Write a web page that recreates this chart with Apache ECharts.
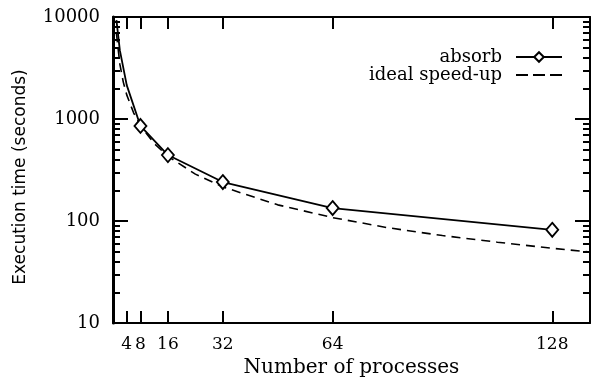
<!DOCTYPE html>
<html><head><meta charset="utf-8">
<script src="https://cdn.jsdelivr.net/npm/echarts@6/dist/echarts.min.js"></script>
<style>html,body{margin:0;padding:0;background:#fff}#c{width:594px;height:382px}</style>
</head><body><div id="c"></div>
<script>
const xTicks = [4, 8, 16, 32, 64, 128];
const yMajor = [10, 100, 1000, 10000];
const yMinor = [20, 30, 40, 50, 60, 70, 80, 90, 200, 300, 400, 500, 600, 700, 800, 900, 2000, 3000, 4000, 5000, 6000, 7000, 8000, 9000];
const absorbP = [1, 2, 4, 8, 16, 32, 64, 128];
const absorbT = [9300, 4700, 2150, 854, 443, 241, 134, 82];
const markedFrom = 8;
const idealP = [1, 2, 3, 4, 6, 8, 12, 16, 24, 32, 48, 64, 80, 96, 112, 128, 139];
const idealT = [6900, 3450, 2300, 1725, 1150, 862, 575, 431, 288, 216, 144, 108, 86, 72, 62, 54, 49.6];

const serif = 'DejaVu Serif';
const chart = echarts.init(document.getElementById('c'), null, {renderer: 'canvas'});

function xAxisDef(pos, showLabel) {
  return {
    type: 'value', position: pos, min: 0, max: 139,
    axisLine: {show: true, onZero: false, lineStyle: {color: '#000', width: 2}},
    axisTick: {show: true, inside: true, length: 12, customValues: xTicks, lineStyle: {color: '#000', width: 2}},
    axisLabel: {show: showLabel, customValues: xTicks, color: '#000', fontFamily: serif, fontSize: 17, margin: 13},
    splitLine: {show: false},
    name: showLabel ? 'Number of processes' : '',
    nameLocation: 'middle', nameGap: 34,
    nameTextStyle: {color: '#000', fontFamily: serif, fontSize: 20}
  };
}
function yAxisDef(pos, vals, len, showLabel, showLine, name) {
  return {
    type: 'log', logBase: 10, position: pos, min: 10, max: 10000,
    axisLine: {show: showLine, onZero: false, lineStyle: {color: '#000', width: pos === 'left' ? 3 : 2}},
    axisTick: {show: true, inside: true, length: len, customValues: vals, lineStyle: {color: '#000', width: 2}},
    axisLabel: {show: showLabel, customValues: vals, color: '#000', fontFamily: serif, fontSize: 18, margin: 13,
      formatter: v => String(Math.round(v))},
    splitLine: {show: false},
    name: name || '', nameLocation: 'middle', nameGap: 84,
    nameTextStyle: {color: '#000', fontFamily: 'DejaVu Sans', fontSize: 17, padding: [0, 14, 0, 0]}
  };
}

const dashIcon = 'path://M0,0h0.01v0.01h-0.01Z M0,5h12v2h-12Z M17,5h12v2h-12Z M34,5h12v2h-12Z M45.99,11.99h0.01v0.01h-0.01Z';

chart.setOption({
  animation: false,
  backgroundColor: '#fff',
  grid: {left: 113, right: 4, top: 17, bottom: 59, containLabel: false, outerBoundsMode: 'none'},
  legend: {
    orient: 'vertical', align: 'right', right: 31, top: 48, padding: 0,
    itemWidth: 46, itemHeight: 12, itemGap: 0,
    textStyle: {color: '#000', fontFamily: serif, fontSize: 18, padding: [0, 9, 0, 0]},
    data: [{name: 'absorb'}, {name: 'ideal speed-up', icon: dashIcon, itemStyle: {color: '#000'}}]
  },
  xAxis: [xAxisDef('bottom', true), xAxisDef('top', false)],
  yAxis: [
    yAxisDef('left', yMajor, 15, true, true, 'Execution time (seconds)'),
    yAxisDef('left', yMinor, 7, false, false),
    yAxisDef('right', yMajor, 15, false, true),
    yAxisDef('right', yMinor, 7, false, false)
  ],
  series: [
    {
      name: 'ideal speed-up', type: 'line', xAxisIndex: 0, yAxisIndex: 0,
      data: idealP.map((p, i) => [p, idealT[i]]),
      showSymbol: false, symbol: 'none', smooth: false,
      lineStyle: {color: '#000', width: 1.6, type: [9, 6]},
      itemStyle: {color: '#000'}, z: 2
    },
    {
      name: 'absorb', type: 'line', xAxisIndex: 0, yAxisIndex: 0,
      data: absorbP.map((p, i) => ({value: [p, absorbT[i]], symbol: p >= markedFrom ? 'diamond' : 'none'})),
      symbol: 'diamond', symbolSize: [12, 14], showAllSymbol: true,
      lineStyle: {color: '#000', width: 1.8},
      itemStyle: {color: '#fff', borderColor: '#000', borderWidth: 1.8},
      z: 3
    }
  ]
});
</script>
</body></html>
